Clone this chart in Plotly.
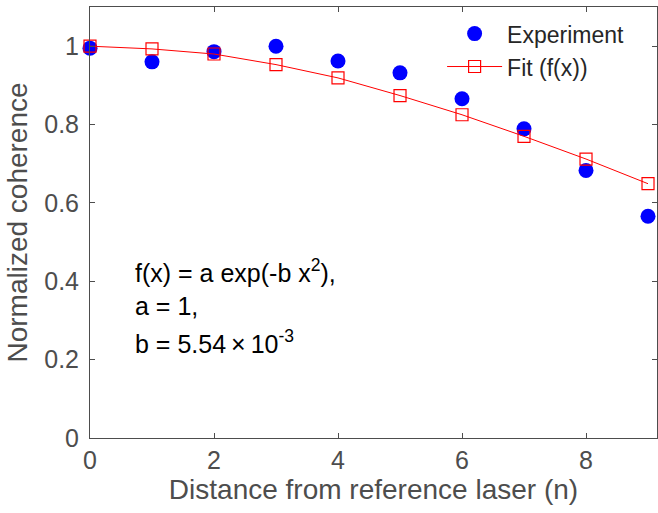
import plotly.graph_objects as go

distance = [0, 1, 2, 3, 4, 5, 6, 7, 8, 9]
experiment = [0.995, 0.960, 0.986, 1.000, 0.962, 0.932, 0.866, 0.789, 0.683, 0.566]
fit = [1.000, 0.993, 0.980, 0.953, 0.919, 0.874, 0.825, 0.770, 0.712, 0.649]
xticks = [0, 2, 4, 6, 8]
yticks = [0, 0.2, 0.4, 0.6, 0.8, 1]

FONT = "Liberation Sans, Arial, Helvetica, sans-serif"
AX = "#4d4d4d"

fig = go.Figure()
fig.add_trace(go.Scatter(
    x=distance, y=experiment, mode="markers", name="Experiment",
    marker=dict(symbol="circle", size=15, color="#0000ff", line=dict(width=0)),
    cliponaxis=False,
))
fig.add_trace(go.Scatter(
    x=distance, y=fit, mode="lines+markers", name="Fit (f(x))",
    line=dict(color="#ff0000", width=1),
    marker=dict(symbol="square-open", size=12, color="#ff0000", line=dict(width=1.2)),
    cliponaxis=False,
))

axis_common = dict(
    showline=True, linecolor=AX, linewidth=1, mirror="ticks",
    ticks="inside", ticklen=5, tickcolor=AX, tickwidth=1,
    showgrid=False, zeroline=False,
    tickfont=dict(family=FONT, size=25, color=AX),
)
fig.update_xaxes(range=[0, 9.145], tickvals=xticks, ticktext=[str(v) for v in xticks],
                 title=dict(text="Distance from reference laser (n)",
                            font=dict(family=FONT, size=28, color=AX), standoff=6),
                 **axis_common)
fig.update_yaxes(range=[0, 1.1], tickvals=yticks, ticktext=["0", "0.2", "0.4", "0.6", "0.8", "1"],
                 ticklabelstandoff=5,
                 title=dict(text="Normalized coherence",
                            font=dict(family=FONT, size=28, color=AX), standoff=8),
                 **axis_common)

ann_font = dict(family=FONT, size=25, color="#000000")
lines = ["f(x) = a exp(-b x<sup>2</sup>),", "a = 1,", "b = 5.54\u2009\u00d7\u200910<sup>-3</sup>"]
ys = [0.425, 0.336, 0.246]
for t, yv in zip(lines, ys):
    fig.add_annotation(x=0.69, y=yv, xref="x", yref="y", text=t, showarrow=False,
                       xanchor="left", yanchor="middle", font=ann_font)

fig.update_layout(
    width=658, height=513,
    margin=dict(l=90, r=1, t=7, b=75),
    paper_bgcolor="white", plot_bgcolor="white",
    showlegend=True,
    legend=dict(x=0.621, y=0.988, xanchor="left", yanchor="top",
                bgcolor="rgba(0,0,0,0)", borderwidth=0,
                font=dict(family=FONT, size=23, color="#262626"),
                itemwidth=55, tracegroupgap=0),
)

fig.write_html(
    "out.html",
    config={"displayModeBar": False},
    post_script="document.body.style.margin='0';document.body.style.overflow='hidden';",
)
